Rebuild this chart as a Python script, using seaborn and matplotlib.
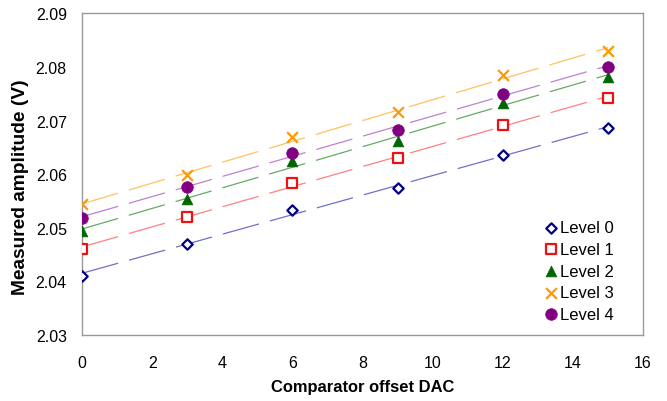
import matplotlib
matplotlib.use("Agg")
import matplotlib.pyplot as plt
import seaborn as sns
import numpy as np
import pandas as pd

dac = [0, 3, 6, 9, 12, 15]
level0 = [2.0411, 2.0470, 2.0534, 2.0575, 2.0636, 2.0686]
level1 = [2.0461, 2.0520, 2.0584, 2.0631, 2.0692, 2.0742]
level2 = [2.0494, 2.0554, 2.0625, 2.0663, 2.0733, 2.0782]
level3 = [2.0544, 2.0598, 2.0669, 2.0716, 2.0786, 2.0830]
level4 = [2.0519, 2.0577, 2.0640, 2.0683, 2.0750, 2.0801]
labels = ["Level 0", "Level 1", "Level 2", "Level 3", "Level 4"]

series = [level0, level1, level2, level3, level4]
marker_colors = ["#000080", "#ee1111", "#006400", "#ff9900", "#800080"]
line_colors = ["#7070c8", "#ff8080", "#66aa66", "#ffc060", "#c080d0"]
markers = ["D", "s", "^", "x", "o"]
sizes = [28, 55, 60, 60, 70]

sns.set_style("white")
plt.rcParams["font.family"] = ["Liberation Sans", "DejaVu Sans"]
plt.rcParams["text.color"] = "black"
plt.rcParams["axes.labelcolor"] = "black"

fig, ax = plt.subplots(figsize=(6.67, 4.02), dpi=100)
fig.subplots_adjust(left=0.123, right=0.964, top=0.964, bottom=0.164)

for vals, lab, mc, lc, mk, sz in zip(series, labels, marker_colors, line_colors, markers, sizes):
    df = pd.DataFrame({"x": dac, "y": vals})
    sns.regplot(data=df, x="x", y="y", ax=ax, scatter=False, ci=None, truncate=True,
                line_kws=dict(color=lc, lw=0.9, dashes=(30, 9)))
    if mk in ("D", "s"):
        sns.scatterplot(data=df, x="x", y="y", ax=ax, marker=mk, s=sz,
                        facecolor="white", edgecolor=mc, linewidth=1.6, label=lab, zorder=5)
    elif mk == "x":
        sns.scatterplot(data=df, x="x", y="y", ax=ax, marker=mk, s=sz,
                        color=mc, linewidth=1.6, label=lab, zorder=5)
    else:
        sns.scatterplot(data=df, x="x", y="y", ax=ax, marker=mk, s=sz,
                        color=mc, edgecolor=mc, linewidth=0.5, label=lab, zorder=5)

ax.set_xlim(0, 16)
ax.set_ylim(2.03, 2.09)
ax.set_xticks(np.arange(0, 17, 2))
ax.set_yticks(np.arange(2.03, 2.0901, 0.01))
ax.set_yticklabels([f"{v:.2f}" for v in np.arange(2.03, 2.0901, 0.01)])

for sp in ax.spines.values():
    sp.set_color("#999999")
    sp.set_linewidth(1.0)

ax.tick_params(axis="both", direction="in", length=4, width=1, color="#999999",
               labelsize=11.5, labelcolor="black")
ax.tick_params(axis="y", pad=11)
ax.tick_params(axis="x", pad=14)

ax.set_xlabel("Comparator offset DAC", fontsize=11.9, fontweight="bold", labelpad=7,
              color="black")
ax.set_ylabel("Measured amplitude (V)", fontsize=13.8, fontweight="bold", color="black")
ax.yaxis.set_label_coords(-0.0945, 0.462)

leg = ax.legend(loc="lower right", bbox_to_anchor=(0.966, 0.01), frameon=False,
                fontsize=12, handletextpad=0.05, labelspacing=0.4, borderaxespad=0.2,
                handlelength=1.0)
for t in leg.get_texts():
    t.set_color("black")

fig.savefig("out.png", dpi=100)
